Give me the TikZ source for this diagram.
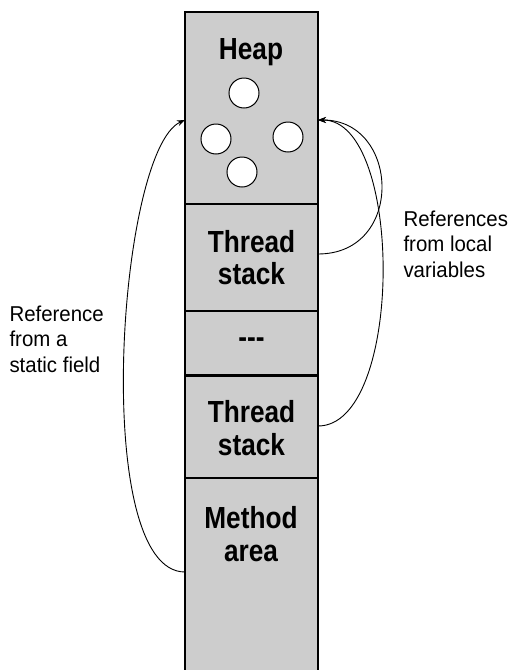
\documentclass[tikz,border=0pt]{standalone}
\usepackage{fontspec}
\usepackage{xcolor}
\usetikzlibrary{arrows.meta}
\newfontfamily\boxfont[FakeStretch=0.86]{Liberation Sans}
\newfontfamily\notefont[FakeStretch=0.95]{Liberation Sans}
\definecolor{areagray}{RGB}{205,205,205}
\tikzset{
  area/.style={draw, line width=1.1pt, fill=areagray, minimum width=133pt, inner sep=0pt},
  areatext/.style={align=center, font=\boxfont\bfseries\fontsize{30.5}{32.5}\selectfont},
  obj/.style={circle, draw, fill=white, line width=1pt, minimum size=30pt, inner sep=0pt},
  note/.style={align=left, anchor=west, font=\notefont\fontsize{21.5}{25.5}\selectfont},
  ref/.style={line width=0.9pt, -{Stealth[length=8pt,width=6pt]}}
}

\begin{document}
\begin{tikzpicture}[x=1pt,y=-1pt]
\useasboundingbox (0,0) rectangle (512,670);
\node[area, minimum height=192pt] (heap) at (251.5,108) {};
\node[area, minimum height=107pt, areatext] (stackA) at (251.5,257.5) {Thread\\stack};
\node[area, minimum height=64pt, areatext] (dots) at (251.5,343) {---};
\node[area, minimum height=103pt, areatext] (stackB) at (251.5,428) {Thread\\stack};
\node[area, minimum height=212pt] (method) at (251.5,584) {};
\node[areatext] (heaplabel) at (251,52) {Heap};
\node[areatext] (methodlabel) at (251,534) {Method\\area};
% objects on the heap
\node[obj] (objA) at (244,93) {};
\node[obj] (objB) at (216,139) {};
\node[obj] (objC) at (288,137) {};
\node[obj] (objD) at (242,172) {};
\coordinate (heapin) at (185,120);
\coordinate (heapout) at (318,120);
\coordinate (staticout) at (185,572);
\coordinate (localA) at (318,254);
\coordinate (localB) at (318,426);
\draw[ref] (staticout) .. controls (90,572) and (118,150) .. (heapin);
\draw[ref] (localA) .. controls (405,254) and (400,120) .. (heapout);
\draw[ref] (localB) .. controls (404,426) and (404,120) .. (heapout);
\node[note] (localnote) at (400,244) {References\\from local\\variables};
\node[note] (staticnote) at (6,339) {Reference\\from a\\static field};
\end{tikzpicture}
\end{document}
